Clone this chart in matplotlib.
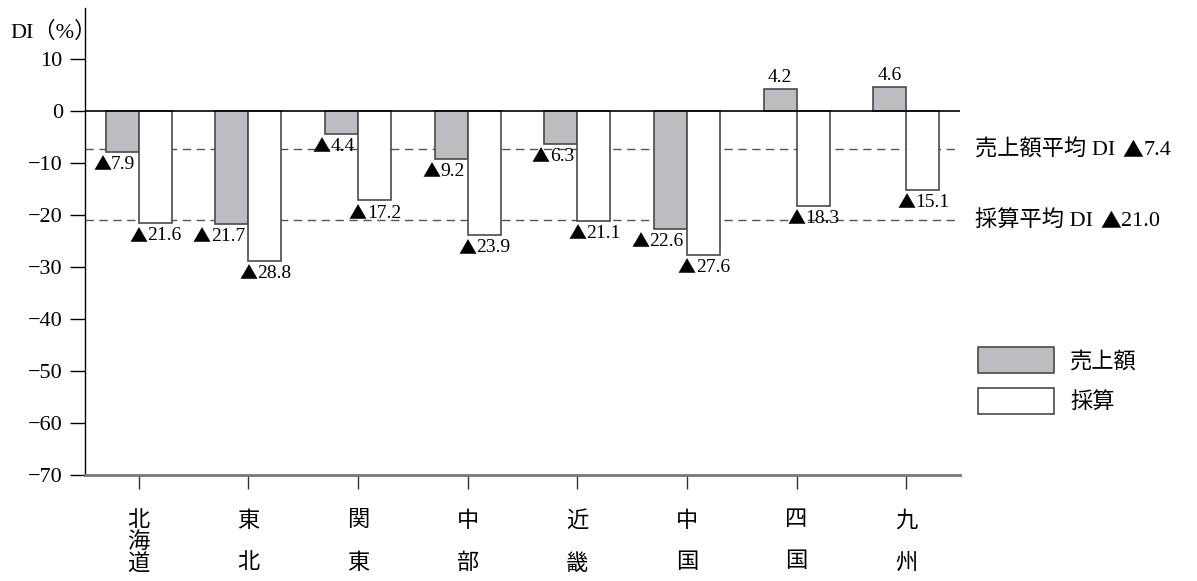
import matplotlib.pyplot as plt
from matplotlib.patches import Patch

plt.rcParams['font.family'] = ['Liberation Serif', 'Noto Sans CJK JP']

# Daten
regions = ['北\n海\n道', '東\n　\n北', '関\n　\n東', '中\n　\n部',
           '近\n　\n畿', '中\n　\n国', '四\n　\n国', '九\n　\n州']
sales = [-7.9, -21.7, -4.4, -9.2, -6.3, -22.6, 4.2, 4.6]
profit = [-21.6, -28.8, -17.2, -23.9, -21.1, -27.6, -18.3, -15.1]
avg_sales = -7.4
avg_profit = -21.0
yticks = [10, 0, -10, -20, -30, -40, -50, -60, -70]

TRI_FONT = 'Noto Sans CJK JP'


def tri_label(ax, v, xy, xycoords='data', offset=(0, 0), ha='left', va='top', fs=14):
    # Zahl in Serif, Dreieck (negativ) aus der CJK-Schrift davor
    num = ax.annotate(f'{abs(v):.1f}', xy=xy, xycoords=xycoords, xytext=offset,
                      textcoords='offset points', ha=ha, va=va, fontsize=fs,
                      annotation_clip=False)
    if v < 0:
        ax.annotate('▲', xy=(0, 0.45), xycoords=num, ha='right', va='center',
                    fontsize=fs - 1, family=TRI_FONT, annotation_clip=False)
    return num


fig = plt.figure(figsize=(11.97, 5.81), dpi=100)
ax = fig.add_axes([0.0710, 0.1824, 0.7310, 0.8038])

x = list(range(len(regions)))
w = 0.3
edge = '#4a4a4a'
ax.bar([i - w for i in x], sales, width=w, align='edge', color='#bcbdc0',
       edgecolor=edge, linewidth=1.2, zorder=3)
ax.bar(x, profit, width=w, align='edge', color='white',
       edgecolor=edge, linewidth=1.2, zorder=3)

# Durchschnittslinien
for v, txt in [(avg_sales, '売上額平均 DI'), (avg_profit, '採算平均 DI')]:
    ax.axhline(v, color='#555555', linestyle=(0, (6, 4)), linewidth=1.0, zorder=1)
    t = ax.annotate(txt, xy=(1, v), xycoords=('axes fraction', 'data'),
                    xytext=(11, 0), textcoords='offset points',
                    ha='left', va='center', fontsize=16, annotation_clip=False)
    tri = ax.annotate('▲', xy=(1, 0.45), xycoords=t, xytext=(5, 0),
                      textcoords='offset points', ha='left', va='center',
                      fontsize=15, family=TRI_FONT, annotation_clip=False)
    ax.annotate(f'{abs(v):.1f}', xy=(1, 0.5), xycoords=tri, ha='left', va='center',
                fontsize=16, annotation_clip=False)

ax.axhline(0, color='black', linewidth=1.2, zorder=4)

# Beschriftungen
for i, (s, p) in enumerate(zip(sales, profit)):
    if s < 0:
        tri_label(ax, s, (i - 0.03, s), offset=(0, -3), ha='right', va='top')
    else:
        tri_label(ax, s, (i - w / 2, s), offset=(0, 2), ha='center', va='bottom')
    tri_label(ax, p, (i + 0.08, p), offset=(0, -3), ha='left', va='top')

ax.set_xlim(-0.49, 7.49)
ax.set_ylim(-70, 19.8)
ax.set_yticks(yticks)
ax.tick_params(axis='y', direction='out', length=11, width=1, labelsize=16, pad=5)
ax.set_xticks(x)
ax.set_xticklabels(regions, fontsize=16, linespacing=1.1)
ax.tick_params(axis='x', direction='out', length=10, width=1, pad=16, color='#333333')

for s in ['top', 'right']:
    ax.spines[s].set_visible(False)
ax.spines['left'].set_linewidth(1.0)
ax.spines['bottom'].set_linewidth(2.0)
ax.spines['bottom'].set_color('#777777')

fig.text(10 / 1197, 1 - 32 / 581, 'DI（%）', fontsize=16, ha='left', va='center')

handles = [Patch(facecolor='#bcbdc0', edgecolor=edge, linewidth=1.2, label='売上額'),
           Patch(facecolor='white', edgecolor=edge, linewidth=1.2, label='採算')]
fig.legend(handles=handles, loc='upper left', bbox_to_anchor=(978 / 1197, 1 - 347 / 581),
           frameon=False, fontsize=16, borderpad=0, borderaxespad=0,
           handlelength=3.4, handleheight=1.45, handletextpad=0.75, labelspacing=0.65)

fig.savefig('out.png', dpi=100)
